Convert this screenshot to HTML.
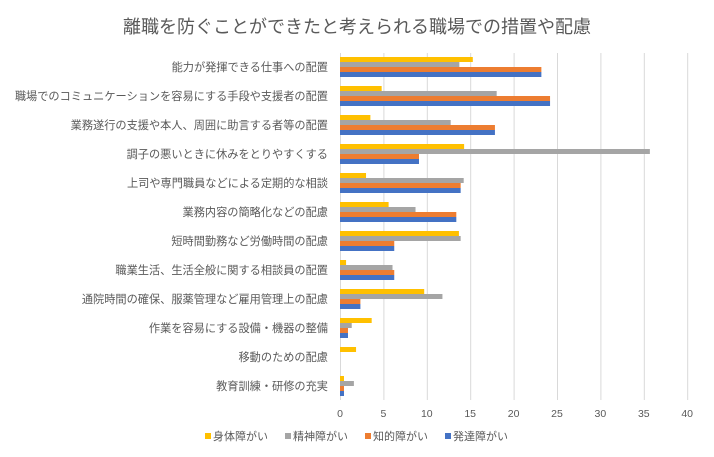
<!DOCTYPE html>
<html><head><meta charset="utf-8"><style>
body{margin:0;background:#fff}
svg text{font-family:"Liberation Sans","Noto Sans CJK JP",sans-serif;fill:#595959}
</style></head><body>
<svg width="714" height="452" viewBox="0 0 714 452" xmlns="http://www.w3.org/2000/svg">
<rect width="714" height="452" fill="#fff"/>
<text x="357" y="33" font-size="18" text-anchor="middle">離職を防ぐことができたと考えられる職場での措置や配慮</text>
<g stroke="#d9d9d9" stroke-width="1">
<line x1="340.5" y1="53" x2="340.5" y2="400"/><line x1="383.9" y1="53" x2="383.9" y2="400"/><line x1="427.3" y1="53" x2="427.3" y2="400"/><line x1="470.7" y1="53" x2="470.7" y2="400"/><line x1="514.1" y1="53" x2="514.1" y2="400"/><line x1="557.5" y1="53" x2="557.5" y2="400"/><line x1="600.9" y1="53" x2="600.9" y2="400"/><line x1="644.3" y1="53" x2="644.3" y2="400"/><line x1="687.7" y1="53" x2="687.7" y2="400"/>
</g>
<g id="bars"></g>
<g font-size="10.5" text-anchor="middle">
<text x="340" y="417">0</text><text x="383.4" y="417">5</text><text x="426.8" y="417">10</text><text x="470.2" y="417">15</text><text x="513.6" y="417">20</text><text x="557" y="417">25</text><text x="600.4" y="417">30</text><text x="643.8" y="417">35</text><text x="687.2" y="417">40</text>
</g>
<g font-size="11.2" text-anchor="end" id="labels"></g>
<g font-size="11">
<rect x="205" y="433" width="6" height="6" fill="#ffc000"/><text x="213" y="440">身体障がい</text>
<rect x="285" y="433" width="6" height="6" fill="#a5a5a5"/><text x="293" y="440">精神障がい</text>
<rect x="365" y="433" width="6" height="6" fill="#ed7d31"/><text x="373" y="440">知的障がい</text>
<rect x="445" y="433" width="6" height="6" fill="#4472c4"/><text x="453" y="440">発達障がい</text>
</g>
</svg>
<script>
var d=[
["能力が発揮できる仕事への配置",15.3,13.75,23.2,23.2],
["職場でのコミュニケーションを容易にする手段や支援者の配置",4.8,18.05,24.2,24.2],
["業務遂行の支援や本人、周囲に助言する者等の配置",3.5,12.75,17.85,17.85],
["調子の悪いときに休みをとりやすくする",14.3,35.7,9.1,9.1],
["上司や専門職員などによる定期的な相談",3,14.25,13.9,13.9],
["業務内容の簡略化などの配慮",5.6,8.7,13.4,13.4],
["短時間勤務など労働時間の配慮",13.7,13.9,6.25,6.25],
["職業生活、生活全般に関する相談員の配置",0.7,6.05,6.25,6.25],
["通院時間の確保、服薬管理など雇用管理上の配慮",9.7,11.8,2.35,2.35],
["作業を容易にする設備・機器の整備",3.65,1.35,0.92,0.92],
["移動のための配慮",1.85,0,0,0],
["教育訓練・研修の充実",0.46,1.6,0.46,0.46]];
var c=["#ffc000","#a5a5a5","#ed7d31","#4472c4"],ns="http://www.w3.org/2000/svg";
var b=document.getElementById("bars"),l=document.getElementById("labels");
d.forEach(function(r,i){var y0=57+i*29;
for(var k=0;k<4;k++){if(r[k+1]<=0)continue;var e=document.createElementNS(ns,"rect");
e.setAttribute("x",340);e.setAttribute("y",y0+k*5);e.setAttribute("width",r[k+1]*8.68);e.setAttribute("height",5);e.setAttribute("fill",c[k]);b.appendChild(e);}
var t=document.createElementNS(ns,"text");t.setAttribute("x",328);t.setAttribute("y",y0+14);t.textContent=r[0];l.appendChild(t);});
</script>
</body></html>
